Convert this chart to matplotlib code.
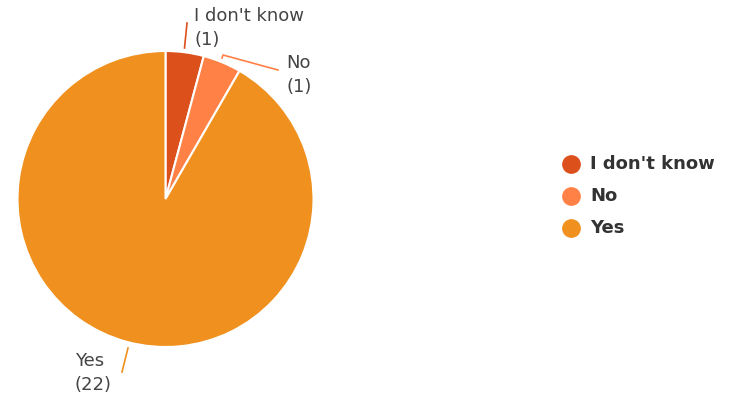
import matplotlib
matplotlib.use("Agg")
import matplotlib.pyplot as plt
import numpy as np

categories = ["I don't know", "No", "Yes"]
values = [1, 1, 22]
colors = ["#DC501C", "#FF8146", "#F0901E"]

W, H = 732, 396
fig = plt.figure(figsize=(W / 100, H / 100), dpi=100)
ax = fig.add_axes([0, 0, 1, 1])

cx, cy, r = 165.5, H - 199, 148
wedges, _ = ax.pie(values, colors=colors, startangle=90, counterclock=False,
                   center=(cx, cy), radius=r,
                   wedgeprops=dict(edgecolor="white", linewidth=1.5))
ax.set_xlim(0, W)
ax.set_ylim(0, H)
ax.set_aspect("equal")
ax.axis("off")

def P(x, y):
    return x, H - y

label_color = "#444444"
fs = 13
ls = 1.45
# I don't know
ax.plot(*zip(P(184.5, 48), P(187, 23)), color=colors[0], lw=1.2)
ax.text(*P(194, 28), f"{categories[0]}\n({values[0]})", ha="left", va="center",
        fontsize=fs, color=label_color, linespacing=ls)
# No
ax.plot(*zip(P(222, 58), P(223, 55), P(278, 70)), color=colors[1], lw=1.2)
ax.text(*P(286, 75), f"{categories[1]}\n({values[1]})", ha="left", va="center",
        fontsize=fs, color=label_color, linespacing=ls)
# Yes
ax.plot(*zip(P(128, 348), P(122, 372)), color=colors[2], lw=1.2)
ax.text(*P(75, 373), f"{categories[2]}\n({values[2]})", ha="left", va="center",
        fontsize=fs, color=label_color, linespacing=ls)

# legend
for i, (c, col) in enumerate(zip(categories, colors)):
    y = 164 + 32 * i
    ax.plot(*P(571, y), marker="o", markersize=13.5, color=col, markeredgewidth=0)
    ax.text(*P(590, y), c, ha="left", va="center", fontsize=13,
            fontweight="bold", color="#333333")

fig.savefig("out.png", dpi=100)
